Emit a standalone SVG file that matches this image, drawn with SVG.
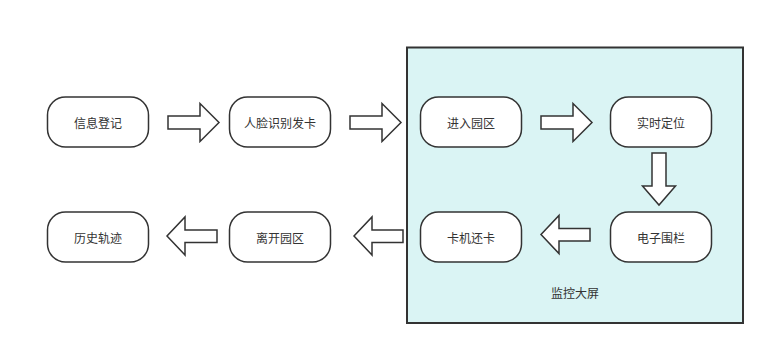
<svg xmlns="http://www.w3.org/2000/svg" width="775" height="355" viewBox="0 0 775 355">
<style>
.node rect{fill:#fff;stroke:#333;stroke-width:1.5}
.lbl{font-family:"Noto Sans CJK SC","Noto Sans",sans-serif;font-size:12px;fill:#333;text-anchor:middle;dominant-baseline:central}
.arr{fill:#fff;stroke:#333;stroke-width:1.5;stroke-linejoin:miter}
</style>
<rect width="775" height="355" fill="#fff"/>
<g id="container">
<rect x="407" y="47.5" width="336" height="275.5" fill="#daf4f4" stroke="#333" stroke-width="2"/>
<text class="lbl" x="575" y="292">监控大屏</text>
</g>
<g id="n1" class="node"><rect x="47.5" y="97" width="101" height="50" rx="18"/><text class="lbl" x="98" y="122">信息登记</text></g>
<g id="n2" class="node"><rect x="229.5" y="97" width="101" height="50" rx="18"/><text class="lbl" x="280" y="122">人脸识别发卡</text></g>
<g id="n3" class="node"><rect x="420.5" y="97" width="101" height="50" rx="18"/><text class="lbl" x="471" y="122">进入园区</text></g>
<g id="n4" class="node"><rect x="610.5" y="97" width="101" height="50" rx="18"/><text class="lbl" x="661" y="122">实时定位</text></g>
<g id="n5" class="node"><rect x="610.5" y="212" width="101" height="50" rx="18"/><text class="lbl" x="661" y="237">电子围栏</text></g>
<g id="n6" class="node"><rect x="420.5" y="212" width="101" height="50" rx="18"/><text class="lbl" x="471" y="237">卡机还卡</text></g>
<g id="n7" class="node"><rect x="229.5" y="212" width="101" height="50" rx="18"/><text class="lbl" x="280" y="237">离开园区</text></g>
<g id="n8" class="node"><rect x="47.5" y="212" width="101" height="50" rx="18"/><text class="lbl" x="98" y="237">历史轨迹</text></g>
<g id="connectors">
<polygon class="arr" points="168,116 200,116 200,103.5 219,122.5 200,141.5 200,129 168,129"/>
<polygon class="arr" points="350,116 382,116 382,103.5 401,122.5 382,141.5 382,129 350,129"/>
<polygon class="arr" points="541,116 573,116 573,103.5 592,122.5 573,141.5 573,129 541,129"/>
<polygon class="arr" points="652,153 666,153 666,186 675.5,186 659,205 642.5,186 652,186"/>
<polygon class="arr" points="590,228.5 559,228.5 559,215.5 541,234.5 559,253.5 559,241 590,241"/>
<polygon class="arr" points="403,230 372,230 372,217 354,236 372,255 372,242.5 403,242.5"/>
<polygon class="arr" points="217,230 185,230 185,217 167,236 185,255 185,242.5 217,242.5"/>
</g>
</svg>
